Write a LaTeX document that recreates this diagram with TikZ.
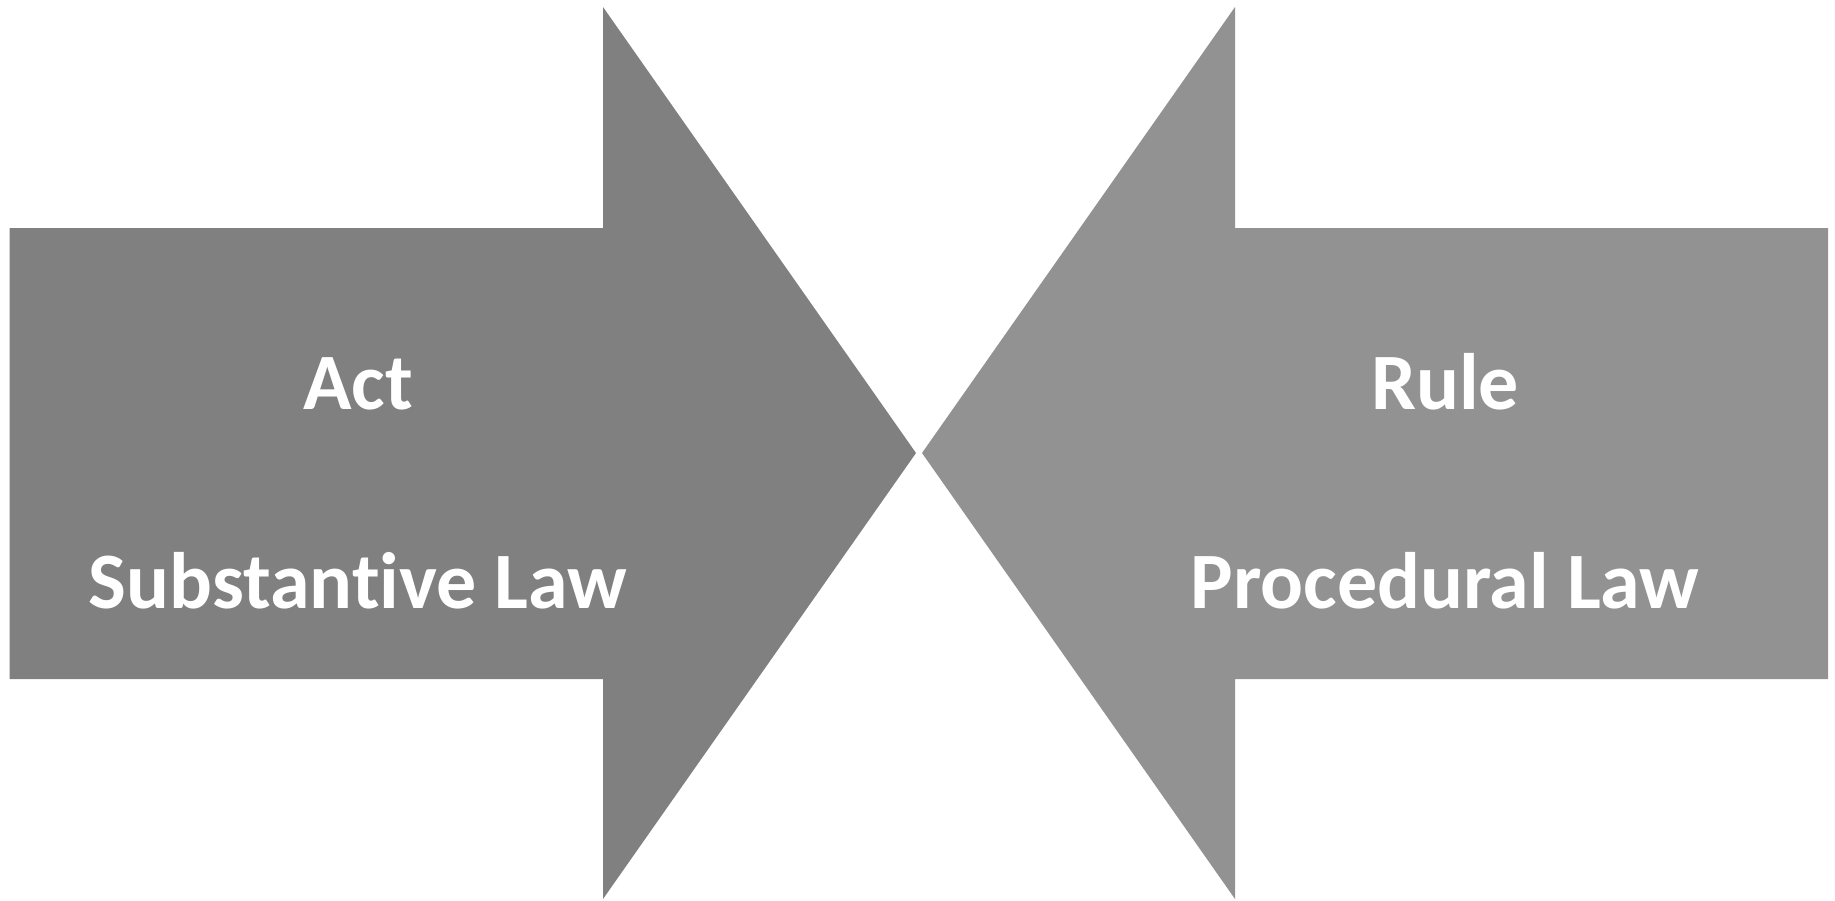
\documentclass[tikz,border=0pt]{standalone}
\usepackage{fontspec}
\setmainfont{Carlito}[Ligatures={NoCommon}]
\definecolor{leftgray}{HTML}{808080}
\definecolor{rightgray}{HTML}{929292}
\begin{document}
\begin{tikzpicture}[x=1pt,y=-1pt,
  lbl/.style={text=white,font=\fontsize{80}{96}\selectfont\bfseries,anchor=base,inner sep=0pt}]
\useasboundingbox (0,0) rectangle (1835,900);
\fill[leftgray] (9.5,228) -- (603,228) -- (603,7) -- (916,453) -- (603,899) -- (603,679) -- (9.5,679) -- cycle;
\fill[rightgray] (1828,228) -- (1235,228) -- (1235,7) -- (922,453) -- (1235,899) -- (1235,679) -- (1828,679) -- cycle;
\node[lbl] (act) at (358,409) {Act};
\node[lbl] (sub) at (358,608) {Substantive Law};
\node[lbl] (rule) at (1445,409) {Rule};
\node[lbl] (proc) at (1445,608) {Procedural Law};
\end{tikzpicture}
\end{document}
